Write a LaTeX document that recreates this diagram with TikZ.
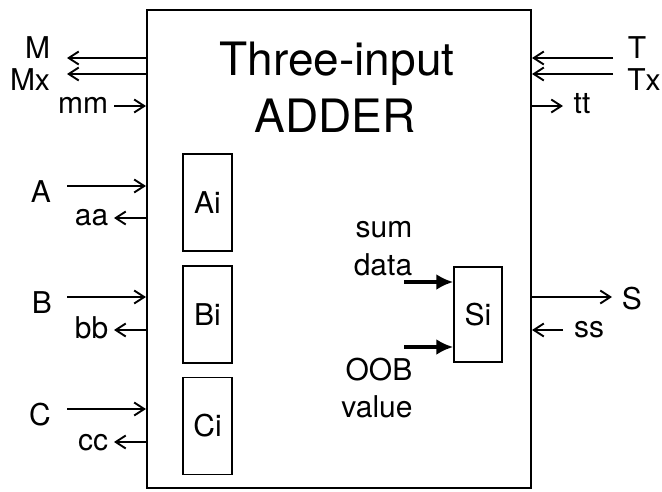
\documentclass[tikz,border=0pt]{standalone}
\usepackage{fontspec}
\setmainfont{TeX Gyre Heros}
\usetikzlibrary{arrows.meta, positioning}

\tikzset{
  sig/.style={line width=1.9pt, -{Straight Barb[length=10pt,width=13pt]}},
  bus/.style={line width=4pt, -{Latex[length=17pt,width=16pt]}},
  cell/.style={draw, line width=1.5pt, minimum width=49pt, minimum height=97pt, inner sep=0pt, font=\fontsize{30}{36}\selectfont},
  lbl/.style={font=\fontsize{30}{36}\selectfont, anchor=base, inner sep=0pt},
  big/.style={font=\fontsize{46}{57}\selectfont, anchor=base, inner sep=0pt},
}

\begin{document}
\begin{tikzpicture}[x=1pt, y=-1pt]
  \useasboundingbox (0,0) rectangle (662,491);
  % Adder
  \node[draw, line width=2.1pt, minimum width=384pt, minimum height=478pt] (adder) at (339,249) {};
  \node[big] (title1) at (337,75) {Three-input};
  \node[big] (title2) at (335,132) {ADDER};
  % Inner registers
  \node[cell] (Ai) at (207.5,202.5) {Ai};
  \node[cell] (Bi) at (207.5,314.5) {Bi};
  \node[cell] (Ci) at (207.5,426) {Ci};
  \node[cell, minimum width=48pt, minimum height=95pt] (Si) at (478,314.5) {Si};
  % Si inputs
  \node[lbl] (sum) at (384,237) {sum};
  \node[lbl] (data) at (383,275) {data};
  \node[lbl] (OOB) at (379,380) {OOB};
  \node[lbl] (value) at (377,417) {value};
  \coordinate (data in) at (404,282);
  \coordinate (OOB in) at (404,347);
  \draw[bus] (data in) -- (Si.west |- data in);
  \draw[bus] (OOB in) -- (Si.west |- OOB in);
  % Left side
  \node[lbl] (M) at (37.5,58) {M};
  \node[lbl] (Mx) at (30,90) {Mx};
  \node[lbl] (mm) at (83,113) {mm};
  \coordinate (M tip) at (67,58);
  \coordinate (Mx tip) at (67,74);
  \coordinate (mm start) at (114,106);
  \draw[sig] (adder.west |- M tip) -- (M tip);
  \draw[sig] (adder.west |- Mx tip) -- (Mx tip);
  \draw[sig] (mm start) -- (adder.west |- mm start);
  \node[lbl] (A) at (41,202) {A};
  \node[lbl] (aa) at (91.5,225) {aa};
  \node[lbl] (B) at (42,313) {B};
  \node[lbl] (bb) at (91.5,338) {bb};
  \node[lbl] (C) at (40,425) {C};
  \node[lbl] (cc) at (93,450) {cc};
  \coordinate (A start) at (67,186);
  \coordinate (aa tip) at (114,218);
  \coordinate (B start) at (67,297);
  \coordinate (bb tip) at (114,330);
  \coordinate (C start) at (67,409);
  \coordinate (cc tip) at (114,442);
  \draw[sig] (A start) -- (adder.west |- A start);
  \draw[sig] (adder.west |- aa tip) -- (aa tip);
  \draw[sig] (B start) -- (adder.west |- B start);
  \draw[sig] (adder.west |- bb tip) -- (bb tip);
  \draw[sig] (C start) -- (adder.west |- C start);
  \draw[sig] (adder.west |- cc tip) -- (cc tip);
  % Right side
  \node[lbl] (T) at (637,58) {T};
  \node[lbl] (Tx) at (644,90) {Tx};
  \node[lbl] (tt) at (582,113) {tt};
  \node[lbl] (S) at (632,309) {S};
  \node[lbl] (ss) at (589,337) {ss};
  \coordinate (T start) at (613,58);
  \coordinate (Tx start) at (613,74);
  \coordinate (tt tip) at (563,106);
  \coordinate (S tip) at (612,297);
  \coordinate (ss start) at (563,330);
  \draw[sig] (T start) -- (adder.east |- T start);
  \draw[sig] (Tx start) -- (adder.east |- Tx start);
  \draw[sig] (adder.east |- tt tip) -- (tt tip);
  \draw[sig] (adder.east |- S tip) -- (S tip);
  \draw[sig] (ss start) -- (adder.east |- ss start);
\end{tikzpicture}
\end{document}
